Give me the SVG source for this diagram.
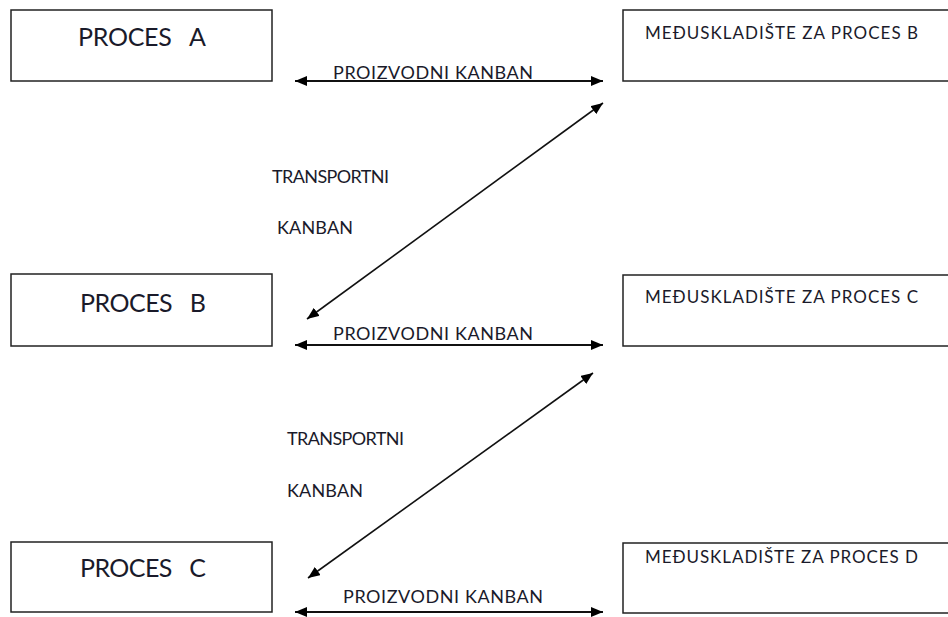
<svg xmlns="http://www.w3.org/2000/svg" width="948" height="617" viewBox="0 0 948 617">
<defs>
<marker id="ah" viewBox="0 0 12 10" refX="12" refY="5" markerWidth="12" markerHeight="10" markerUnits="userSpaceOnUse" orient="auto-start-reverse">
<path d="M0,0 L12,5 L0,10 z" fill="#000"/>
</marker>
<style>
.box{fill:#fff;stroke:#222;stroke-width:1.5}
.t{font-family:Lato,"Open Sans","Liberation Sans",sans-serif;fill:#1a1a2a}
.big{font-size:25px}
.mid{font-size:17px}
.lbl{font-size:18px}
.ln{stroke:#111;stroke-width:2;fill:none}
.dg{stroke:#111;stroke-width:1.6;fill:none}
</style>
</defs>
<rect width="948" height="617" fill="#fff"/>
<g id="procesA"><rect class="box" x="11" y="10" width="261" height="71"/><text class="t big" x="78" y="46" textLength="128" xml:space="preserve">PROCES   A</text></g>
<g id="procesB"><rect class="box" x="11" y="274" width="261" height="72"/><text class="t big" x="80" y="312" textLength="126" xml:space="preserve">PROCES   B</text></g>
<g id="procesC"><rect class="box" x="11" y="542" width="261" height="70"/><text class="t big" x="80" y="577" textLength="126" xml:space="preserve">PROCES   C</text></g>
<g id="skladisteB"><rect class="box" x="623" y="10" width="340" height="71"/><text class="t mid" x="645" y="39" textLength="273">MEĐUSKLADIŠTE ZA PROCES B</text></g>
<g id="skladisteC"><rect class="box" x="623" y="275" width="340" height="71"/><text class="t mid" x="645" y="303" textLength="273">MEĐUSKLADIŠTE ZA PROCES C</text></g>
<g id="skladisteD"><rect class="box" x="623" y="543" width="340" height="70"/><text class="t mid" x="645" y="563" textLength="273">MEĐUSKLADIŠTE ZA PROCES D</text></g>
<g id="connectors">
<line class="ln" x1="295" y1="81" x2="603" y2="81" marker-start="url(#ah)" marker-end="url(#ah)"/>
<line class="ln" x1="295" y1="345" x2="603" y2="345" marker-start="url(#ah)" marker-end="url(#ah)"/>
<line class="ln" x1="295" y1="612" x2="603" y2="612" marker-start="url(#ah)" marker-end="url(#ah)"/>
<line class="dg" x1="603" y1="103" x2="307" y2="319" marker-start="url(#ah)" marker-end="url(#ah)"/>
<line class="dg" x1="593" y1="373" x2="308" y2="578" marker-start="url(#ah)" marker-end="url(#ah)"/>
</g>
<g id="labels">
<text class="t lbl" x="333" y="79" textLength="200">PROIZVODNI KANBAN</text>
<text class="t lbl" x="333" y="340" textLength="200">PROIZVODNI KANBAN</text>
<text class="t lbl" x="343" y="603" textLength="200">PROIZVODNI KANBAN</text>
<text class="t lbl" x="272" y="183" textLength="117">TRANSPORTNI</text>
<text class="t lbl" x="277" y="234" textLength="76">KANBAN</text>
<text class="t lbl" x="287" y="445" textLength="117">TRANSPORTNI</text>
<text class="t lbl" x="287" y="497" textLength="76">KANBAN</text>
</g>
</svg>
